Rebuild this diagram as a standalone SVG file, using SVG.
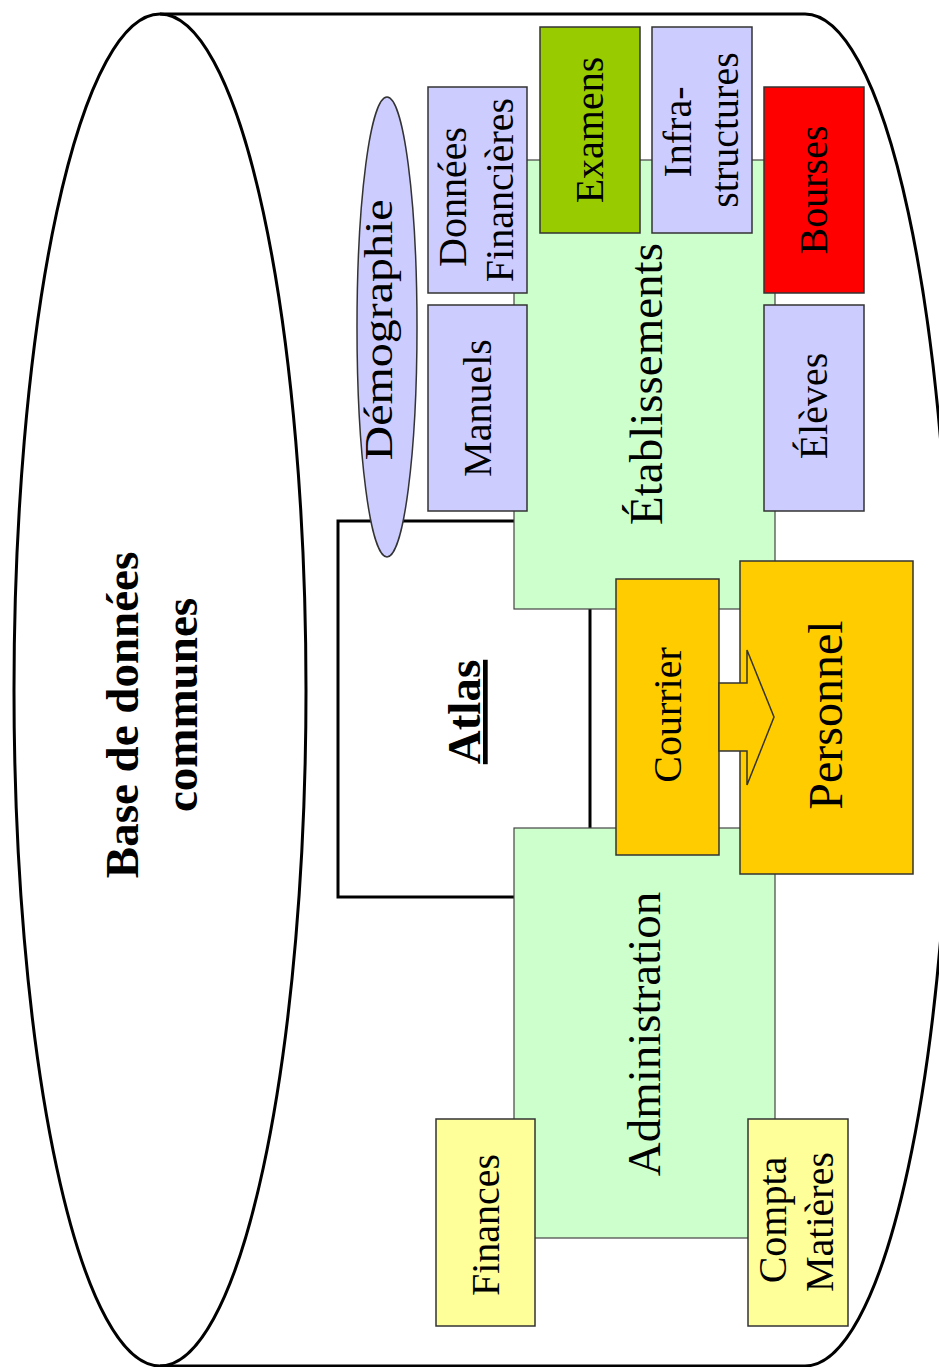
<svg xmlns="http://www.w3.org/2000/svg" width="939" height="1367" viewBox="0 0 939 1367">
<style>
.cyl{fill:none;stroke:#000;stroke-width:3}
.box{stroke:#333;stroke-width:1.5}
.zone{fill:#ccffcc;stroke:#444;stroke-width:1.2}
.lav{fill:#ccccff}
.yel{fill:#ffff99}
.org{fill:#ffcc00}
.t{font-family:"Liberation Serif","Times New Roman",serif;fill:#000;text-anchor:middle}
.s40{font-size:40px}
.s47{font-size:47px}
.b{font-weight:bold}
</style>
<rect width="939" height="1367" fill="#fff"/>
<g id="cylinder">
<ellipse class="cyl" cx="160" cy="690" rx="146" ry="676"/>
<path class="cyl" d="M160,14 L805,14 A146,676 0 0 1 805,1366 L160,1366"/>
<text class="t b s47" transform="translate(138,715) rotate(-90)">Base de données</text>
<text class="t b s47" transform="translate(197,705) rotate(-90)">communes</text>
</g>
<g id="atlas">
<rect x="338" y="521" width="252" height="376" fill="#fff" stroke="#000" stroke-width="3"/>
<text class="t b s47" transform="translate(480,712) rotate(-90)" text-decoration="underline">Atlas</text>
</g>
<g id="etablissements">
<rect class="zone" x="514" y="160" width="261" height="449"/>
<text class="t s47" transform="translate(662,384) rotate(-90)">Établissements</text>
</g>
<g id="administration">
<rect class="zone" x="514" y="828" width="261" height="410"/>
<text class="t s47" transform="translate(660,1034) rotate(-90)">Administration</text>
</g>
<g id="donnees-financieres">
<rect class="box lav" x="428" y="87" width="99" height="206"/>
<text class="t s40" transform="translate(466,197) rotate(-90)">Données</text>
<text class="t s40" transform="translate(513,190) rotate(-90)">Financières</text>
</g>
<g id="manuels">
<rect class="box lav" x="428" y="305" width="99" height="206"/>
<text class="t s40" transform="translate(491,408) rotate(-90)">Manuels</text>
</g>
<g id="examens">
<rect class="box" fill="#99cc00" x="540" y="27" width="100" height="206"/>
<text class="t s40" transform="translate(603,130) rotate(-90)">Examens</text>
</g>
<g id="infrastructures">
<rect class="box lav" x="652" y="27" width="100" height="206"/>
<text class="t s40" transform="translate(691,132) rotate(-90)">Infra-</text>
<text class="t s40" transform="translate(738,130) rotate(-90)">structures</text>
</g>
<g id="bourses">
<rect class="box" fill="#ff0000" x="764" y="87" width="100" height="206"/>
<text class="t s40" transform="translate(827,190) rotate(-90)">Bourses</text>
</g>
<g id="eleves">
<rect class="box lav" x="764" y="305" width="100" height="206"/>
<text class="t s40" transform="translate(827,406) rotate(-90)">Élèves</text>
</g>
<g id="demographie">
<ellipse class="box lav" cx="387" cy="327" rx="30" ry="230"/>
<text class="t" font-size="40" transform="translate(392,330) rotate(-90)" textLength="261" lengthAdjust="spacingAndGlyphs">Démographie</text>
</g>
<g id="finances">
<rect class="box yel" x="436" y="1119" width="99" height="207"/>
<text class="t s40" transform="translate(499,1225) rotate(-90)">Finances</text>
</g>
<g id="compta-matieres">
<rect class="box yel" x="748" y="1119" width="100" height="207"/>
<text class="t s40" transform="translate(786,1220) rotate(-90)">Compta</text>
<text class="t s40" transform="translate(833,1222) rotate(-90)">Matières</text>
</g>
<g id="courrier">
<rect class="box org" x="616" y="579" width="103" height="276"/>
<text class="t s40" transform="translate(681,715) rotate(-90)">Courrier</text>
</g>
<g id="personnel">
<rect class="box org" x="740" y="561" width="173" height="313"/>
<text class="t" font-size="48" transform="translate(842,715) rotate(-90)">Personnel</text>
</g>
<g id="connectors">
<polygon class="box org" points="719,683 747,683 747,650 774,717 747,785 747,751 719,751"/>
</g>
</svg>
